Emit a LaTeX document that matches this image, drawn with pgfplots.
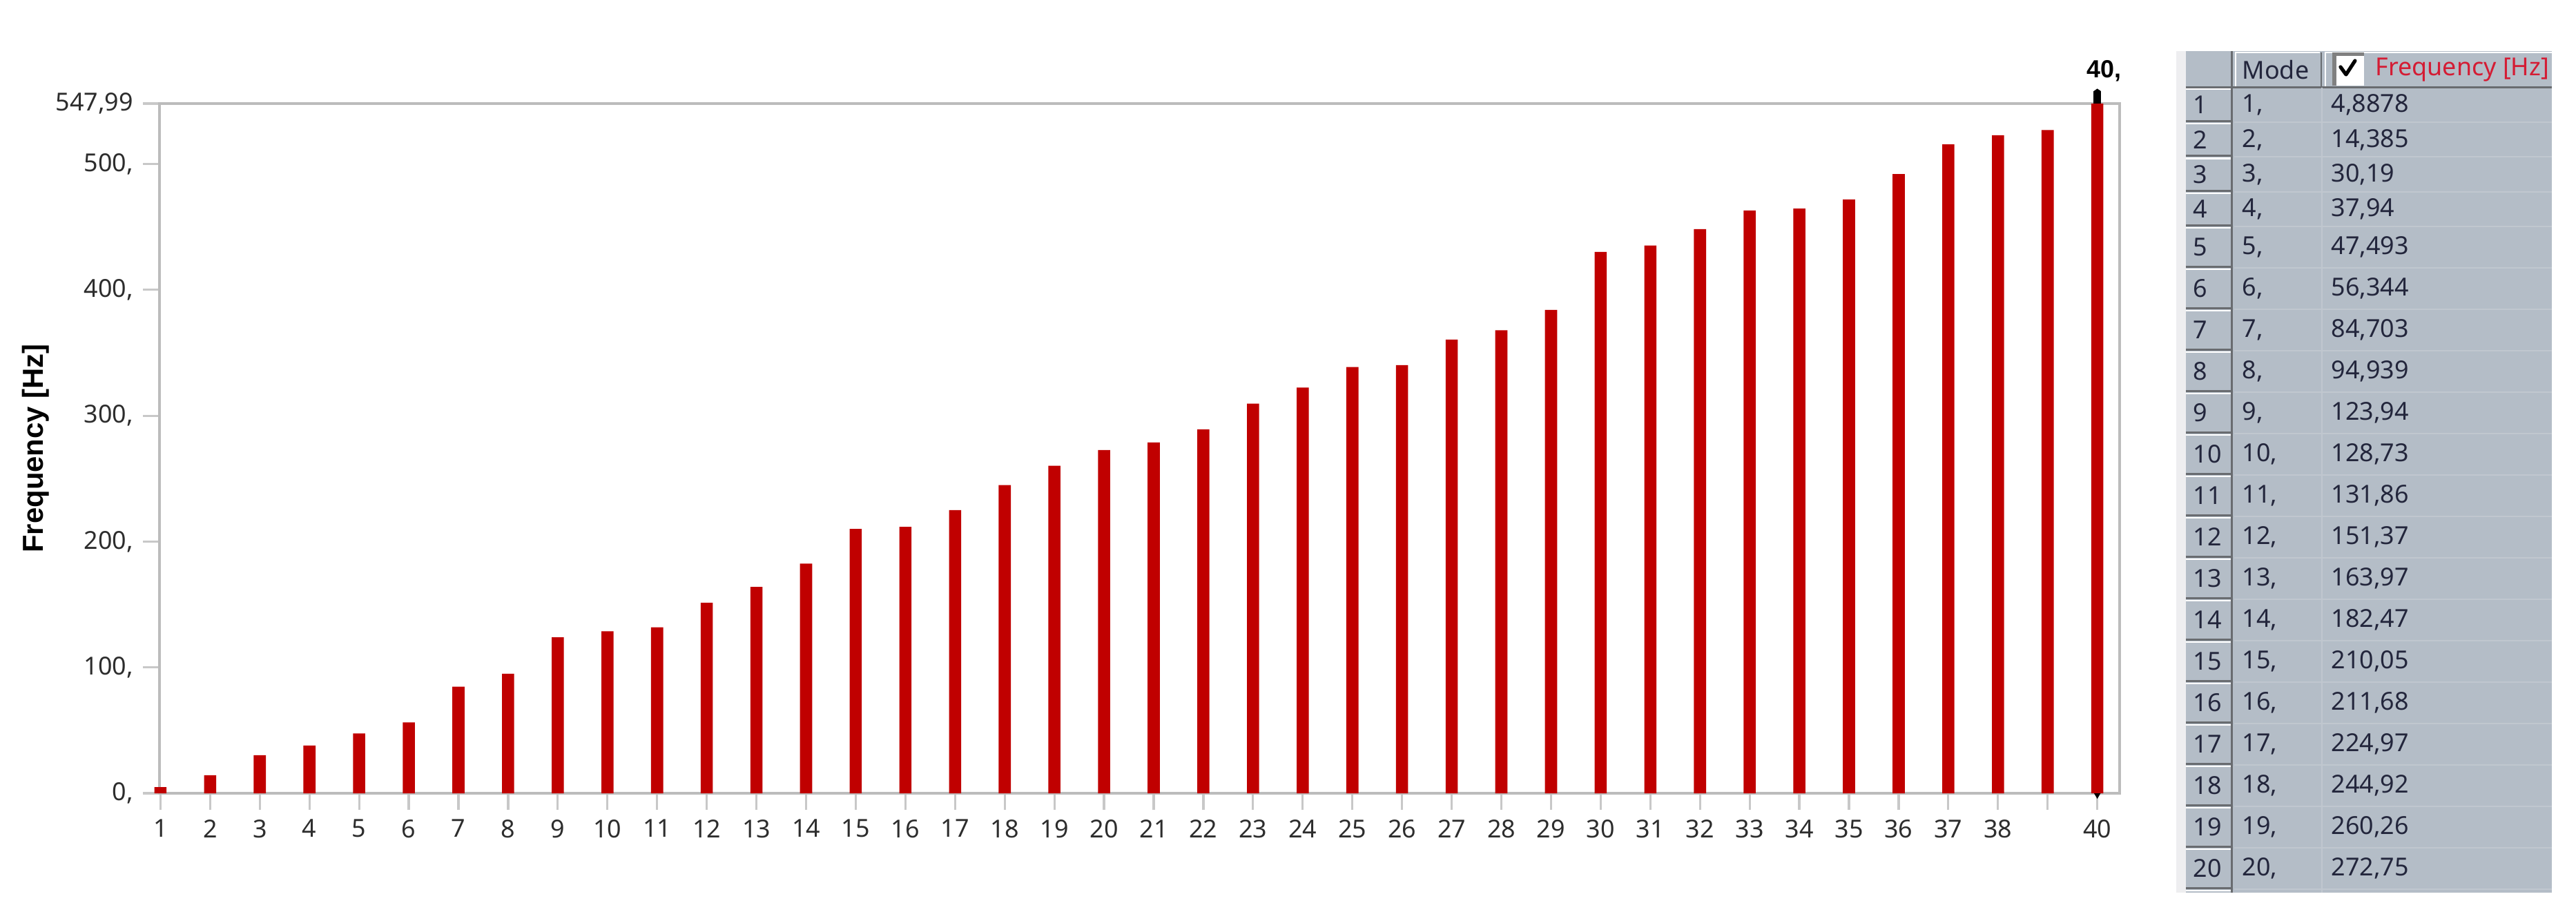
\documentclass[border=0pt]{standalone}
\usepackage{fontspec}
\setmainfont{Noto Sans}
\newfontfamily\lsans{Liberation Sans}
\usepackage{pgfplots}
\pgfplotsset{compat=1.18}
\definecolor{barred}{RGB}{192,0,0}
\definecolor{axisgray}{RGB}{188,188,188}
\definecolor{tickgray}{RGB}{200,200,200}
\definecolor{labgray}{RGB}{45,45,45}
\definecolor{tablebg}{RGB}{180,189,199}
\definecolor{stripgray}{RGB}{238,238,240}
\definecolor{darkline}{RGB}{105,108,112}
\definecolor{rowline}{RGB}{192,199,207}
\definecolor{hdrred}{RGB}{212,28,52}
\definecolor{hdrtext}{RGB}{35,38,60}
\begin{document}
\begin{tikzpicture}
\useasboundingbox (0,0) rectangle (932.75bp,-330.25bp);
\begin{axis}[
  at={(57.75bp,-287.25bp)}, anchor=south west,
  scale only axis, width=709.75bp, height=249.75bp,
  xmin=0.98, xmax=40.45, ymin=0, ymax=547.99,
  clip=false,
  ybar, bar width=4.4bp,
  axis line style={draw=axisgray, line width=0.8bp},
  tick align=outside, major tick length=6bp,
  tick style={draw=tickgray, line width=0.8bp},
  xtick pos=bottom, ytick pos=left,
  xtick={1,2,3,4,5,6,7,8,9,10,11,12,13,14,15,16,17,18,19,20,21,22,23,24,25,26,27,28,29,30,31,32,33,34,35,36,37,38,39,40},
  xticklabels={1,2,3,4,5,6,7,8,9,10,11,12,13,14,15,16,17,18,19,20,21,22,23,24,25,26,27,28,29,30,31,32,33,34,35,36,37,38,{},40},
  ytick={0,100,200,300,400,500,547.99},
  yticklabels={{0,},{100,},{200,},{300,},{400,},{500,},{547,99}},
  ticklabel style={font=\fontsize{9}{10}\selectfont, text=labgray},
  ylabel={Frequency [Hz]},
  ylabel style={font=\lsans\bfseries\fontsize{10.5}{12}\selectfont, at={(axis description cs:0,0.5)}, anchor=center, yshift=44.75bp, text=black},
]
\addplot[fill=barred, draw=none] coordinates {
(1,4.8878) (2,14.385) (3,30.19) (4,37.94) (5,47.493) (6,56.344) (7,84.703) (8,94.939)
(9,123.94) (10,128.73) (11,131.86) (12,151.37) (13,163.97) (14,182.47) (15,210.05)
(16,211.68) (17,224.97) (18,244.92) (19,260.26) (20,272.75) (21,278.7) (22,289.1)
(23,309.6) (24,322.4) (25,338.6) (26,340.2) (27,360.5) (28,367.9) (29,384.0)
(30,430.1) (31,435.2) (32,448.2) (33,463.0) (34,464.5) (35,471.8) (36,492.0)
(37,515.6) (38,522.8) (39,527.0) (40,547.99)
};
\fill[black] ([xshift=-1.3bp]axis cs:40,547.99) rectangle ([xshift=1.3bp,yshift=4.6bp]axis cs:40,547.99);
\fill[black] ([yshift=5.4bp]axis cs:40,547.99) -- ([xshift=-1.3bp,yshift=4.5bp]axis cs:40,547.99) -- ([xshift=1.3bp,yshift=4.5bp]axis cs:40,547.99) -- cycle;
\fill[black] ([xshift=-1.2bp]axis cs:40,0) -- ([xshift=1.2bp]axis cs:40,0) -- ([yshift=-2bp]axis cs:40,0) -- cycle;
\node[font=\lsans\bfseries\fontsize{9}{10}\selectfont, text=black, anchor=center] at ([xshift=2.5bp,yshift=11.75bp]axis cs:40,547.99) {40,};
\end{axis}
\begin{scope}[x=0.25bp,y=-0.25bp]
\fill[stripgray] (3152,74) rectangle (3166,1293);
\fill[tablebg] (3166,74) rectangle (3696,1293);
% header
\draw[white, line width=0.6bp] (3238,126) -- (3238,76) -- (3360,76);
\draw[darkline, line width=0.5bp] (3362,76) -- (3362,126);
\draw[white, line width=0.6bp] (3368,126) -- (3368,76) -- (3696,76);
\node[anchor=west, text=hdrtext, font=\fontsize{9}{10}\selectfont, inner sep=0pt] at (3247,101) {Mode};
\fill[white] (3378,76) rectangle (3424,124);
\fill[gray] (3378,76) rectangle (3384,124);
\fill[gray] (3378,76) rectangle (3424,81);
\draw[black, line width=1.3bp, line cap=round, line join=round] (3390,97) -- (3398,108) -- (3411,88);
\node[anchor=west, text=hdrred, font=\fontsize{9}{10}\selectfont, inner sep=0pt] at (3440,101) {Frequency [Hz]};
\draw[darkline, line width=0.75bp] (3166,127) -- (3696,127);
\draw[white, line width=0.5bp] (3166,1290) -- (3231,1290);
\foreach \i/\v in {1/{4,8878},2/{14,385},3/{30,19},4/{37,94},5/{47,493},6/{56,344},7/{84,703},8/{94,939},9/{123,94},10/{128,73},11/{131,86},12/{151,37},13/{163,97},14/{182,47},15/{210,05},16/{211,68},17/{224,97},18/{244,92},19/{260,26},20/{272,75}} {
  \pgfmathsetmacro\tp{\i<5 ? 127+(\i-1)*50.25 : 328+(\i-5)*60}
  \pgfmathsetmacro\bt{\i<5 ? \tp+50.25 : \tp+60}
  \pgfmathsetmacro\ct{(\tp+\bt)/2}
  \draw[rowline, line width=0.5bp] (3236,\bt) -- (3696,\bt);
  \draw[white, line width=0.6bp] (3166,\tp+2) -- (3231,\tp+2);
  \draw[darkline, line width=0.75bp] (3166,\bt-1.5) -- (3231,\bt-1.5);
  \node[anchor=west, text=hdrtext, font=\fontsize{9}{10}\selectfont, inner sep=0pt] at (3176,\ct) {\i};
  \node[anchor=west, text=hdrtext, font=\fontsize{9}{10}\selectfont, inner sep=0pt] at (3247,\ct) {\i,};
  \node[anchor=west, text=hdrtext, font=\fontsize{9}{10}\selectfont, inner sep=0pt] at (3376,\ct) {\v};
}
\draw[rowline, line width=0.4bp] (3363,127) -- (3363,1293);
\draw[darkline, line width=0.75bp] (3233,74) -- (3233,1293);
\end{scope}
\end{tikzpicture}
\end{document}
